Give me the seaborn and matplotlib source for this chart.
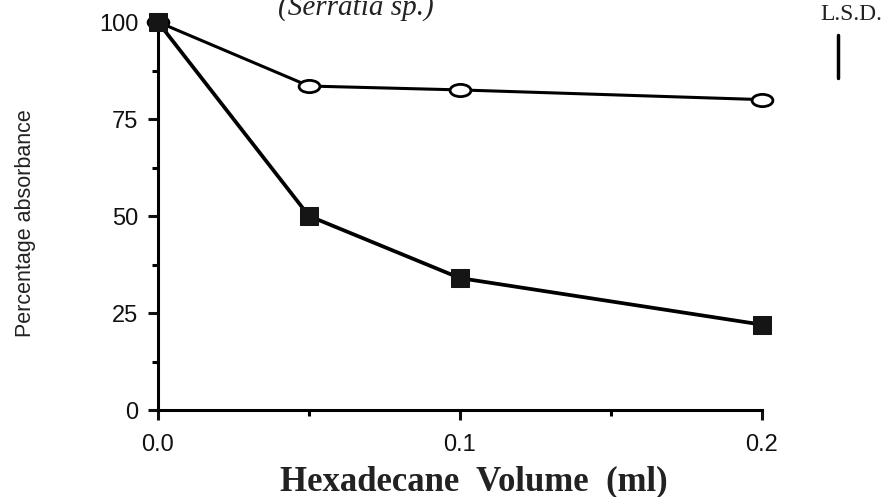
import numpy as np
import pandas as pd
import matplotlib
matplotlib.use("Agg")
import matplotlib.pyplot as plt
from matplotlib.path import Path
from matplotlib.transforms import Affine2D
import seaborn as sns

# Hexadecane volume (ml) and percentage absorbance for the two series
volume = [0.0, 0.05, 0.1, 0.2]
open_series = [100, 83.5, 82.5, 80]
filled_series = [100, 50, 34, 22]

x_ticks = [0.0, 0.1, 0.2]
x_ticklabels = ["0.0", "0.1", "0.2"]
y_ticks = [0, 25, 50, 75, 100]

title_text = "(Serratia sp.)"
lsd_label = "L.S.D."
lsd_low, lsd_high = 85.6, 96.6

sns.set_style("ticks")
plt.rcParams["font.family"] = ["Liberation Sans", "DejaVu Sans"]
serif = ["Liberation Serif", "DejaVu Serif"]

fig = plt.figure(figsize=(8.93, 4.97), dpi=100)
ax = fig.add_axes([0.1769, 0.175, 0.6764, 0.7807])

df_open = pd.DataFrame({"volume": volume, "absorbance": open_series})
df_filled = pd.DataFrame({"volume": volume, "absorbance": filled_series})

# wide ellipse marker for the open series
ellipse = Path.unit_circle().transformed(Affine2D().scale(1.7, 1.0))

sns.lineplot(data=df_open, x="volume", y="absorbance", ax=ax, color="black",
             linewidth=2.2, marker=ellipse, markersize=15, markerfacecolor="white",
             markeredgecolor="black", markeredgewidth=2.0, clip_on=False, zorder=3)
sns.lineplot(data=df_filled, x="volume", y="absorbance", ax=ax, color="black",
             linewidth=2.7, marker="s", markersize=13, markerfacecolor="#151515",
             markeredgecolor="#151515", clip_on=False, zorder=4)

ax.set_xlim(0, 0.2)
ax.set_ylim(0, 100)
ax.set_xticks(x_ticks)
ax.set_xticklabels(x_ticklabels)
ax.set_xticks([0.05, 0.15], minor=True)
ax.set_yticks(y_ticks)
ax.set_yticks([12.5, 37.5, 62.5, 87.5], minor=True)

for side in ("top", "right"):
    ax.spines[side].set_visible(False)
for side in ("left", "bottom"):
    ax.spines[side].set_linewidth(2.2)
    ax.spines[side].set_color("black")

ax.tick_params(axis="both", which="major", direction="out", length=7, width=2.2,
               colors="#111111", labelsize=17)
ax.tick_params(axis="y", which="major", pad=7)
ax.tick_params(axis="x", which="major", pad=10)
ax.tick_params(axis="both", which="minor", direction="out", length=4, width=2.2,
               colors="black")

ax.set_xlabel("")
ax.set_ylabel("")
fig.text(0.531, 0.014, "Hexadecane  Volume  (ml)", family=serif, fontweight="bold",
         fontsize=25, ha="center", va="baseline", color="#222222")
fig.text(0.028, 0.551, "Percentage absorbance", fontsize=15.5, rotation=90,
         ha="center", va="center", color="#222222")

# organism name above the plot, running off the top edge
ax.text(0.0656, 101.8, title_text, family=serif, style="italic", fontsize=21,
        ha="center", va="baseline", color="#222222", clip_on=False)

# least significant difference bar
ax.text(0.2295, 100.5, lsd_label, family=serif, fontsize=17, ha="center",
        va="baseline", color="#222222", clip_on=False)
ax.plot([0.2252, 0.2252], [lsd_low, lsd_high], color="black", linewidth=2.5,
        clip_on=False)

fig.savefig("out.png", dpi=100, facecolor="white")
